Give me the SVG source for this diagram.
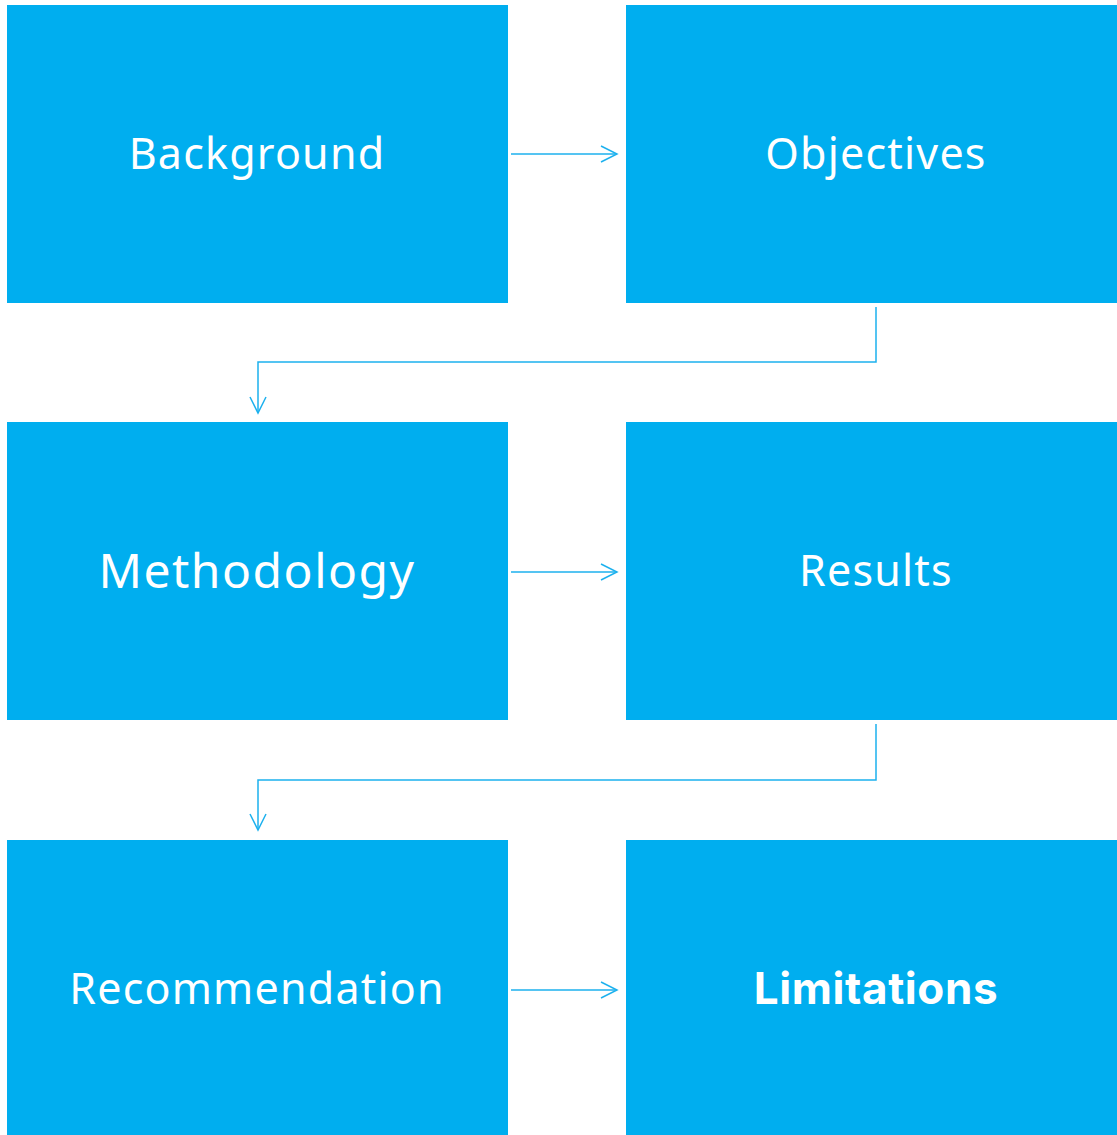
<svg xmlns="http://www.w3.org/2000/svg" width="1117" height="1135" viewBox="0 0 1117 1135">
  <defs>
    <style>
      .box { fill: #00AEEF; }
      .lbl { fill: #FFFFFF; font-family: "Noto Sans", "Open Sans", sans-serif; font-size: 43px; letter-spacing: 1.2px; text-anchor: middle; }
      .big { font-size: 48px; letter-spacing: 1.5px; }
      .bold { font-family: Inter, Roboto, "Liberation Sans", sans-serif; font-weight: bold; font-size: 44px; letter-spacing: 0.6px; }
      .link { fill: none; stroke: #1DB1EE; stroke-width: 1.5; marker-end: url(#chev); }
    </style>
    <marker id="chev" viewBox="0 0 20 20" refX="18" refY="10" markerWidth="20" markerHeight="20" markerUnits="userSpaceOnUse" orient="auto">
      <path d="M2,2 L18,10 L2,18" fill="none" stroke="#1DB1EE" stroke-width="1.5"/>
    </marker>
  </defs>

  <g id="node-background">
    <rect class="box" x="7" y="5" width="501" height="298"/>
    <text class="lbl" x="257" y="169">Background</text>
  </g>
  <g id="node-objectives">
    <rect class="box" x="626" y="5" width="501" height="298"/>
    <text class="lbl" x="876" y="169">Objectives</text>
  </g>
  <g id="node-methodology">
    <rect class="box" x="7" y="422" width="501" height="298"/>
    <text class="lbl big" x="257" y="588">Methodology</text>
  </g>
  <g id="node-results">
    <rect class="box" x="626" y="422" width="501" height="298"/>
    <text class="lbl" x="876" y="586">Results</text>
  </g>
  <g id="node-recommendation">
    <rect class="box" x="7" y="840" width="501" height="295"/>
    <text class="lbl" x="257" y="1004">Recommendation</text>
  </g>
  <g id="node-limitations">
    <rect class="box" x="626" y="840" width="501" height="295"/>
    <text class="lbl bold" x="876" y="1004">Limitations</text>
  </g>

  <g id="connectors">
    <path class="link" d="M511,154 L617,154"/>
    <path class="link" d="M876,307 L876,362 L258,362 L258,413"/>
    <path class="link" d="M511,572 L617,572"/>
    <path class="link" d="M876,724 L876,780 L258,780 L258,830"/>
    <path class="link" d="M511,990 L617,990"/>
  </g>
</svg>
